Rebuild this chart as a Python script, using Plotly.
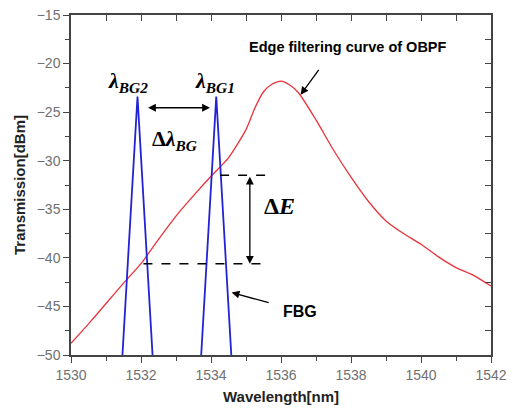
import plotly.graph_objects as go

# OBPF edge filtering curve
obpf_wl = [1530.0, 1530.5, 1531.0, 1531.5, 1532.0, 1532.5, 1533.0, 1533.5, 1534.0, 1534.5,
           1535.0, 1535.25, 1535.5, 1535.75, 1536.0, 1536.25, 1536.5, 1537.0, 1537.5,
           1538.0, 1538.5, 1539.0, 1539.5, 1540.0, 1540.5, 1541.0, 1541.5, 1542.0]
obpf_db = [-48.8, -46.8, -44.7, -42.6, -40.6, -38.1, -35.7, -33.6, -31.6, -29.7,
           -26.8, -24.6, -22.9, -22.1, -21.8, -22.2, -23.0, -25.8, -28.9,
           -31.7, -34.2, -36.2, -37.5, -38.6, -39.9, -41.0, -41.8, -42.9]

# FBG reflection peaks (two)
fbg2_wl = [1531.47, 1531.9, 1532.33]
fbg2_db = [-50.0, -23.4, -50.0]
fbg1_wl = [1533.72, 1534.15, 1534.58]
fbg1_db = [-50.0, -23.4, -50.0]

x_ticks = [1530, 1532, 1534, 1536, 1538, 1540, 1542]
y_ticks = [-15, -20, -25, -30, -35, -40, -45, -50]
x_range = [1530, 1542]
y_range = [-50, -15]

# annotation anchors
dE_high, dE_low = -31.5, -40.6
dE_x = 1535.11
dl_y = -24.55

fig = go.Figure()
fig.add_trace(go.Scatter(x=obpf_wl, y=obpf_db, mode="lines",
                         line=dict(color="#e8333a", width=1.3, shape="spline", smoothing=0.6),
                         showlegend=False, hoverinfo="skip"))
for wl, db in [(fbg2_wl, fbg2_db), (fbg1_wl, fbg1_db)]:
    fig.add_trace(go.Scatter(x=wl, y=db, mode="lines",
                             line=dict(color="#2323d6", width=1.8),
                             showlegend=False, hoverinfo="skip"))
# trace carrying the top/right tick axes
fig.add_trace(go.Scatter(x=x_range, y=y_range, xaxis="x2", yaxis="y2", mode="lines",
                         line=dict(color="rgba(255,255,255,0)", width=1), showlegend=False,
                         hoverinfo="skip"))

tickfont = dict(family="Liberation Sans, Arial", size=14, color="#707070")
titlefont = dict(family="Liberation Sans, Arial", size=15, color="#222")
axcol = "#444444"

fig.update_layout(
    width=513, height=410,
    margin=dict(l=71, r=22, t=15, b=55),
    paper_bgcolor="white", plot_bgcolor="white", showlegend=False,
    xaxis=dict(range=x_range, tickvals=x_ticks, ticks="outside", ticklen=6, tickwidth=1,
               tickcolor=axcol, showline=True, linecolor=axcol, linewidth=1.5,
               showgrid=False, zeroline=False, tickfont=tickfont, automargin=False,
               minor=dict(dtick=1, ticks="outside", ticklen=4, tickcolor=axcol, showgrid=False),
               title=dict(text="<b>Wavelength[nm]</b>", standoff=10, font=titlefont)),
    yaxis=dict(range=y_range, tickvals=y_ticks, ticks="outside", ticklen=6, tickwidth=1,
               tickcolor=axcol, showline=True, linecolor=axcol, linewidth=1.5,
               showgrid=False, zeroline=False, tickfont=tickfont, automargin=False,
               minor=dict(dtick=2.5, ticks="outside", ticklen=4, tickcolor=axcol, showgrid=False),
               title=dict(text="<b>Transmission[dBm]</b>", standoff=7, font=titlefont)),
    xaxis2=dict(range=x_range, overlaying="x", side="top", anchor="y2", dtick=1,
                ticks="inside", ticklen=6, tickcolor=axcol, tickwidth=1, showticklabels=False,
                showline=True, linecolor=axcol, linewidth=1.5, showgrid=False, zeroline=False),
    yaxis2=dict(range=y_range, overlaying="y", side="right", anchor="x2", dtick=2.5,
                ticks="inside", ticklen=6, tickcolor=axcol, tickwidth=1, showticklabels=False,
                showline=True, linecolor=axcol, linewidth=1.5, showgrid=False, zeroline=False),
)

# dashed lines for ΔE
fig.add_shape(type="line", x0=1534.26, x1=1535.69, y0=dE_high, y1=dE_high,
              line=dict(color="black", width=1.5, dash="dash"))
fig.add_shape(type="line", x0=1532.07, x1=1535.59, y0=dE_low, y1=dE_low,
              line=dict(color="black", width=1.5, dash="dash"))

arrow = dict(showarrow=True, arrowcolor="black", arrowwidth=1.3, arrowhead=2, arrowsize=1.2,
             axref="x", ayref="y", xref="x", yref="y", text="")
# ΔE double arrow
fig.add_annotation(x=dE_x, y=dE_low, ax=dE_x, ay=dE_high, arrowside="end+start", **arrow)
# Δλ double arrow
fig.add_annotation(x=1533.97, y=dl_y, ax=1532.16, ay=dl_y, arrowside="end+start", **arrow)
# OBPF pointer
fig.add_annotation(x=1536.56, y=-23.2, ax=1537.11, ay=-20.5, **arrow)
# FBG pointer
fig.add_annotation(x=1534.59, y=-43.57, ax=1535.69, ay=-44.66, **arrow)

serif = "Liberation Serif, Times New Roman"
fig.add_annotation(x=1537.91, y=-18.3, text="<b>Edge filtering curve of OBPF</b>", showarrow=False,
                   font=dict(family="Liberation Sans, Arial", size=14.5, color="black"))
fig.add_annotation(x=1536.54, y=-45.5, text="<b>FBG</b>", showarrow=False,
                   font=dict(family="Liberation Sans, Arial", size=16, color="black"))
fig.add_annotation(x=1531.64, y=-21.9, text="<b><i>λ</i></b><sub><b><i>BG2</i></b></sub>", showarrow=False,
                   font=dict(family=serif, size=22, color="black"))
fig.add_annotation(x=1534.11, y=-21.9, text="<b><i>λ</i></b><sub><b><i>BG1</i></b></sub>", showarrow=False,
                   font=dict(family=serif, size=22, color="black"))
fig.add_annotation(x=1532.97, y=-27.9, text="<b>Δ<i>λ</i></b><sub><b><i>BG</i></b></sub>", showarrow=False,
                   font=dict(family=serif, size=22, color="black"))
fig.add_annotation(x=1535.97, y=-34.7, text="<b>Δ<i>E</i></b>", showarrow=False,
                   font=dict(family=serif, size=24, color="black"))

fig.write_html("out.html", config={"displayModeBar": False},
               post_script="document.body.style.margin='0';document.body.style.overflow='hidden';")
